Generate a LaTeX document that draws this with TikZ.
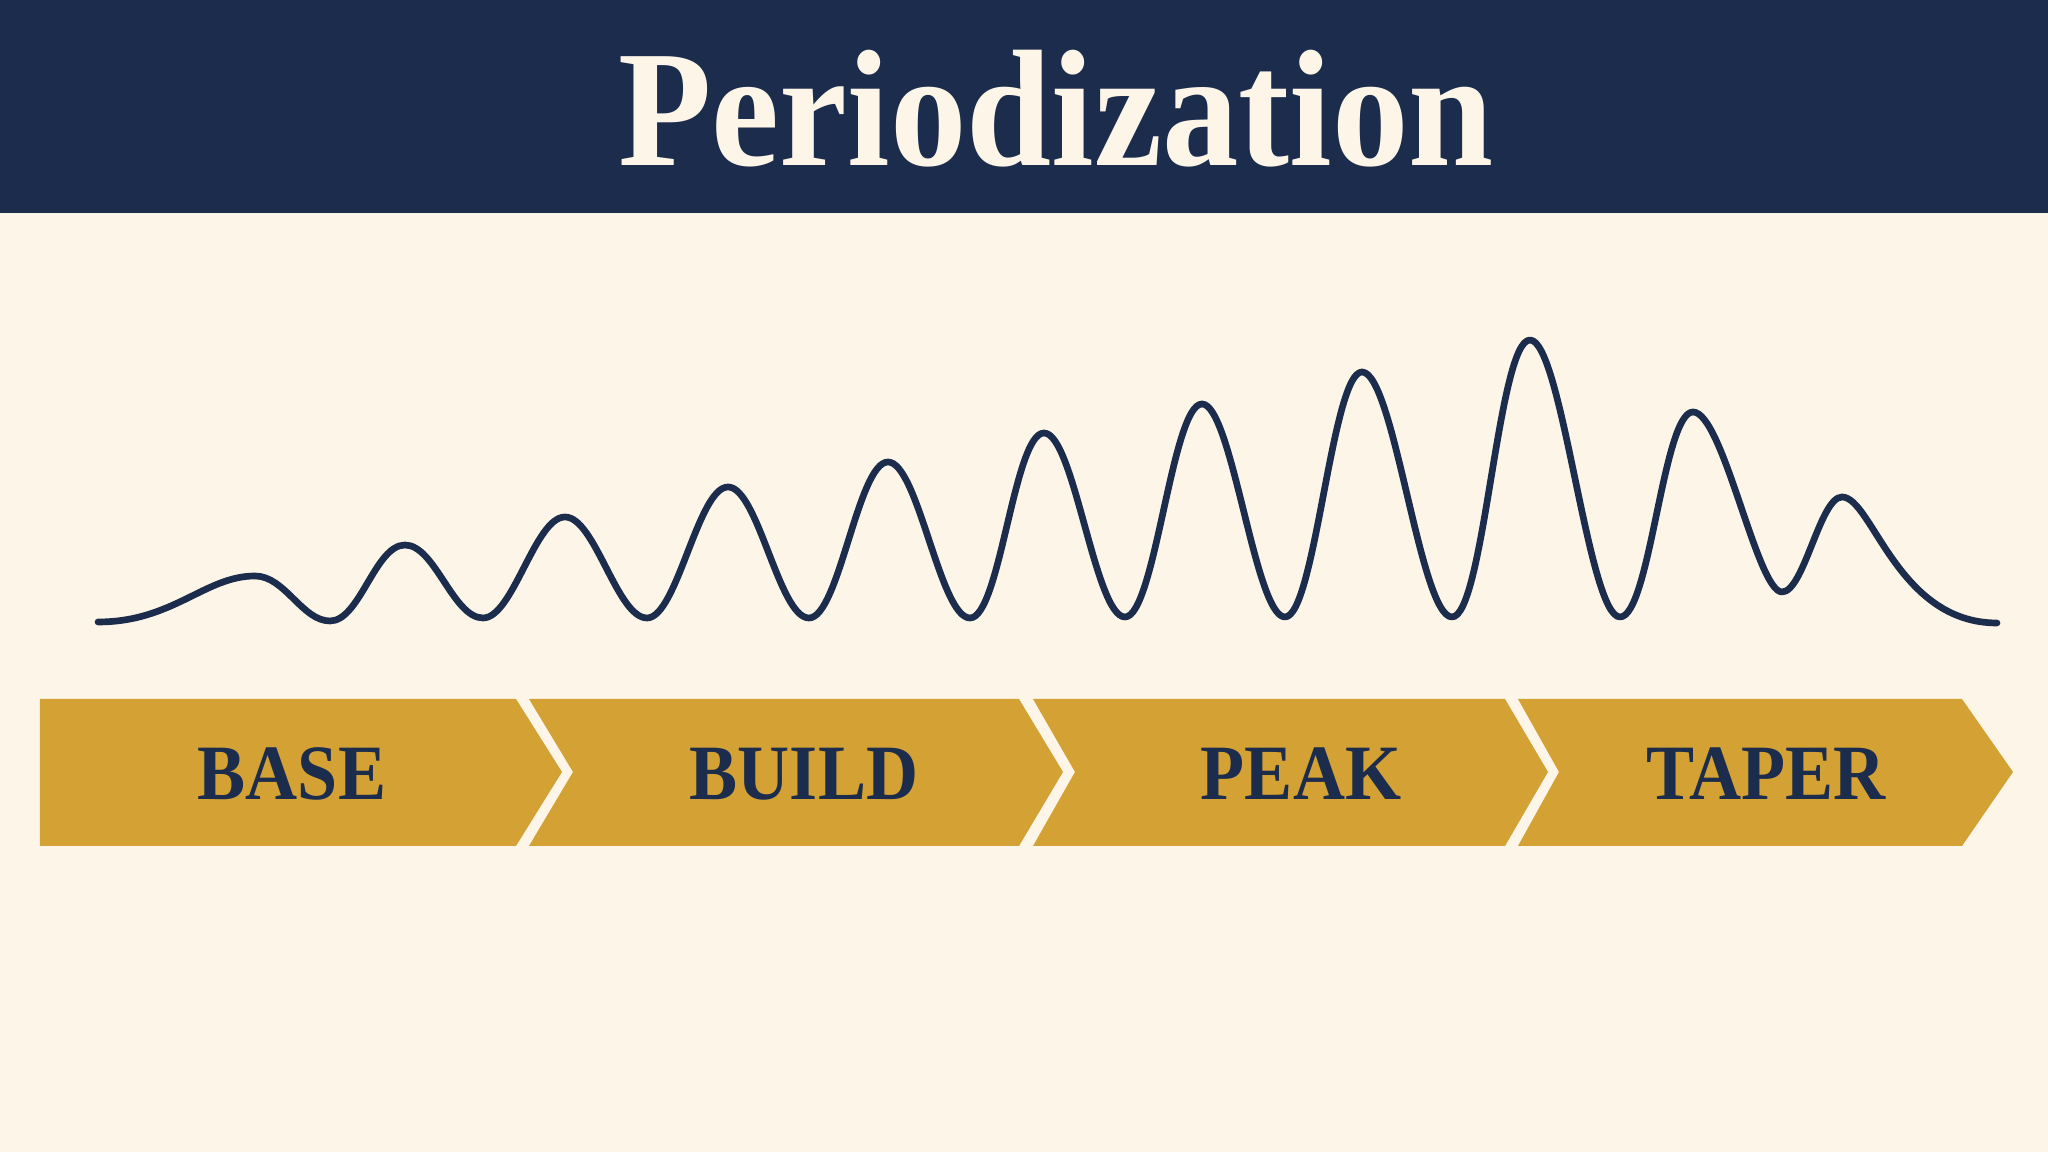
\documentclass[tikz,border=0pt]{standalone}
\usepackage{fontspec}
\usepackage{xcolor}
\usepackage{tikz}
\usetikzlibrary{
    positioning
}
\setmainfont{Liberation Serif}
\newfontfamily\headfont[FakeStretch=0.92]{Liberation Serif}

\definecolor{navy}{HTML}{1B2C4C}
\definecolor{cream}{HTML}{FDF6E8}
\definecolor{gold}{HTML}{D4A234}

\begin{document}
\begin{tikzpicture}[line join=round]
    \tikzstyle{phase}=[fill=gold]
    \tikzstyle{phase label}=[anchor=base, text=navy, font=\headfont\bfseries\fontsize{22.3}{24}\selectfont]
    \tikzstyle{wave}=[draw=navy, line width=1.9pt, line cap=round]

    % background and banner
    \fill[cream] (0, 0) rectangle (20.48, 11.52);
    \fill[navy] (0, 9.39) rectangle (20.48, 11.52);
    \useasboundingbox (0, 0) rectangle (20.48, 11.52);

    \node[anchor=base, text=cream, font=\headfont\bfseries\fontsize{47.3}{50}\selectfont] (title) at (10.56, 9.86) {Periodization};

    % training load
    \draw[wave] (0.98, 5.30)
        .. controls +(0.75, 0) and +(-0.5, 0) .. (2.55, 5.76)
        .. controls +(0.3, 0) and +(-0.28, 0) .. (3.30, 5.31)
        .. controls +(0.3, 0) and +(-0.3, 0) .. (4.05, 6.07)
        .. controls +(0.3, 0) and +(-0.3, 0) .. (4.83, 5.34)
        .. controls +(0.3, 0) and +(-0.3, 0) .. (5.65, 6.35)
        .. controls +(0.3, 0) and +(-0.3, 0) .. (6.47, 5.34)
        .. controls +(0.3, 0) and +(-0.3, 0) .. (7.28, 6.65)
        .. controls +(0.3, 0) and +(-0.3, 0) .. (8.09, 5.34)
        .. controls +(0.3, 0) and +(-0.3, 0) .. (8.88, 6.90)
        .. controls +(0.3, 0) and +(-0.3, 0) .. (9.70, 5.34)
        .. controls +(0.3, 0) and +(-0.3, 0) .. (10.44, 7.19)
        .. controls +(0.3, 0) and +(-0.3, 0) .. (11.25, 5.35)
        .. controls +(0.3, 0) and +(-0.3, 0) .. (12.02, 7.48)
        .. controls +(0.3, 0) and +(-0.3, 0) .. (12.85, 5.35)
        .. controls +(0.3, 0) and +(-0.3, 0) .. (13.62, 7.80)
        .. controls +(0.32, 0) and +(-0.32, 0) .. (14.52, 5.35)
        .. controls +(0.32, 0) and +(-0.32, 0) .. (15.30, 8.12)
        .. controls +(0.32, 0) and +(-0.32, 0) .. (16.20, 5.35)
        .. controls +(0.3, 0) and +(-0.3, 0) .. (16.93, 7.40)
        .. controls +(0.3, 0) and +(-0.25, 0) .. (17.82, 5.60)
        .. controls +(0.22, 0) and +(-0.22, 0) .. (18.42, 6.55)
        .. controls +(0.3, 0) and +(-1.0, 0) .. (19.97, 5.29);

    % phases
    \fill[phase] (0.40, 4.53) -- (5.16, 4.53) -- (5.62, 3.80) -- (5.16, 3.06) -- (0.40, 3.06) -- cycle;
    \fill[phase] (5.29, 4.53) -- (10.19, 4.53) -- (10.63, 3.80) -- (10.19, 3.06) -- (5.29, 3.06) -- (5.73, 3.80) -- cycle;
    \fill[phase] (10.33, 4.53) -- (15.05, 4.53) -- (15.48, 3.80) -- (15.05, 3.06) -- (10.33, 3.06) -- (10.75, 3.80) -- cycle;
    \fill[phase] (15.18, 4.53) -- (19.62, 4.53) -- (20.13, 3.80) -- (19.62, 3.06) -- (15.18, 3.06) -- (15.59, 3.80) -- cycle;

    \node[phase label] (base) at (2.92, 3.52) {BASE};
    \node[phase label] (build) at (8.04, 3.52) {BUILD};
    \node[phase label] (peak) at (13.01, 3.52) {PEAK};
    \node[phase label] (taper) at (17.66, 3.52) {TAPER};
\end{tikzpicture}
\end{document}
